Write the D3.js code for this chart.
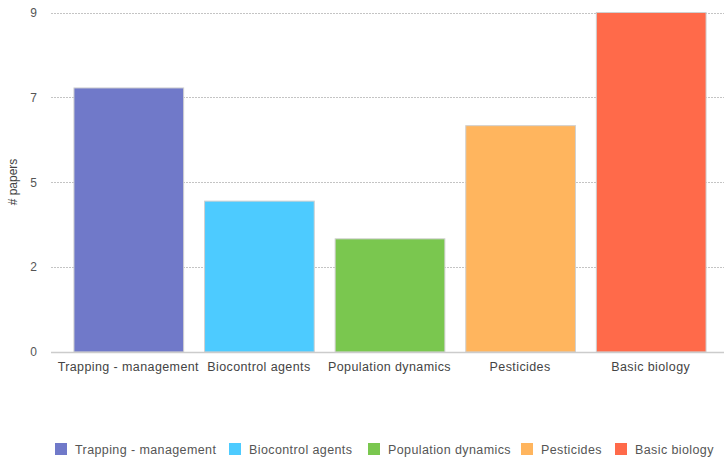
<!DOCTYPE html>
<html><head><meta charset="utf-8">
<script src="https://cdn.jsdelivr.net/npm/d3@7"></script>
<style>
body{margin:0;background:#fff;}
text{font-family:"Liberation Sans",Arial,sans-serif;}
</style></head>
<body><svg id="c" width="724" height="461"></svg>
<script>
const categories = ["Trapping - management","Biocontrol agents","Population dynamics","Pesticides","Basic biology"];
const values = [7,4,3,6,9];
const colors = ["#7079c9","#4dcbff","#7ac74f","#ffb55e","#ff6a4a"];
const tickValues = [0,2.25,4.5,6.75,9];
const yTitle = "# papers";

const svg = d3.select("#c");
const x = d3.scaleBand().domain(categories).range([63,716]).paddingInner(0.16).paddingOuter(0.08);
const y = d3.scaleLinear().domain([0,9]).range([352,12.5]);

// grid
svg.append("g").selectAll("line").data(tickValues.filter(d=>d>0)).join("line")
  .attr("x1",51).attr("x2",724).attr("y1",d=>Math.round(y(d))+0.5).attr("y2",d=>Math.round(y(d))+0.5)
  .attr("stroke","#c4c4c4").attr("stroke-dasharray","2,1");

// bars
svg.append("g").selectAll("rect").data(categories).join("rect")
  .attr("x",d=>x(d)+0.5).attr("width",x.bandwidth())
  .attr("y",(d,i)=>y(values[i])).attr("height",(d,i)=>y(0)-y(values[i]))
  .attr("fill",(d,i)=>colors[i]).attr("stroke","#d0d0d0").attr("stroke-width",1);

// baseline
svg.append("line").attr("x1",51).attr("x2",724).attr("y1",352.5).attr("y2",352.5).attr("stroke","#ccc").attr("stroke-width",1.5);

// y ticks
const yAxis = d3.axisLeft(y).tickValues(tickValues).tickFormat(d=>Math.round(d)).tickSize(0).tickPadding(0);
const ga = svg.append("g").attr("transform","translate(37,0)").call(yAxis);
ga.select(".domain").remove();
ga.selectAll("text").attr("font-size",12).attr("fill","#555").attr("font-family","Liberation Sans, Arial, sans-serif");

// x labels
const xAxis = d3.axisBottom(x).tickSize(0).tickPadding(8);
const gx = svg.append("g").attr("transform","translate(0,354)").call(xAxis);
gx.select(".domain").remove();
gx.selectAll("text").attr("font-size",12.5).attr("letter-spacing","0.4px").attr("fill","#444").attr("font-family","Liberation Sans, Arial, sans-serif");

// y title
svg.append("text").attr("transform","translate(17,182) rotate(-90)").attr("text-anchor","middle")
  .attr("font-size",12).attr("fill","#444").text(yTitle);

// legend
const legX = [55,229,368,521,615];
const lg = svg.append("g").selectAll("g").data(categories).join("g")
  .attr("transform",(d,i)=>`translate(${legX[i]},443)`);
lg.append("rect").attr("width",12).attr("height",12).attr("fill",(d,i)=>colors[i]);
lg.append("text").attr("x",20).attr("y",11).attr("font-size",12.5).attr("letter-spacing","0.4px").attr("fill","#555").text(d=>d);
</script></body></html>
